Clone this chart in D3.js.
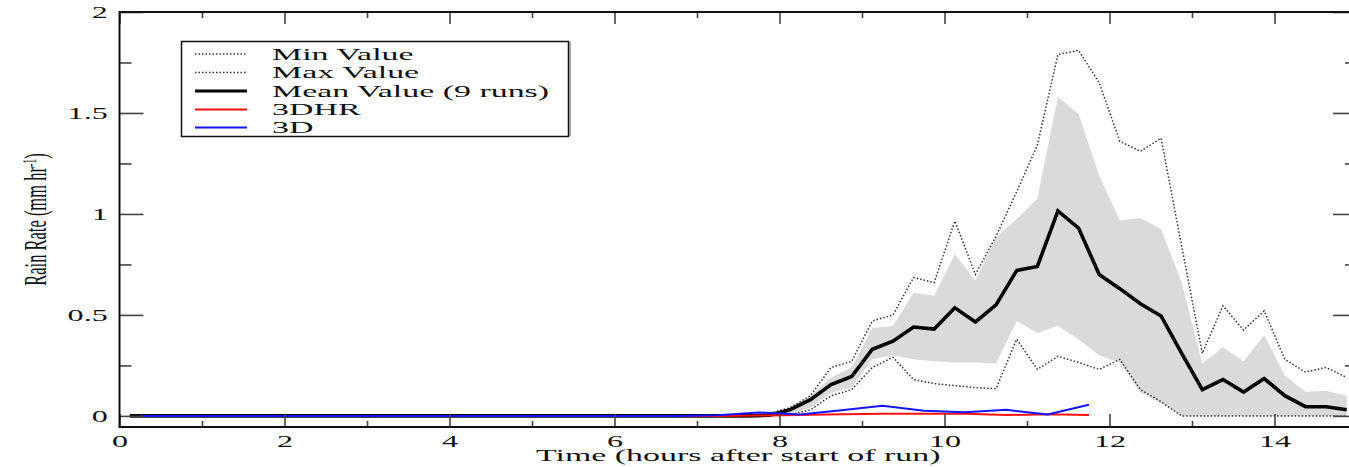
<!DOCTYPE html>
<html>
<head>
<meta charset="utf-8">
<script src="https://cdn.jsdelivr.net/npm/d3@7"></script>
<style>
  html, body { margin: 0; padding: 0; background: #fff; overflow: hidden; }
  svg { display: block; }
  text { font-family: "Liberation Serif", "DejaVu Serif", serif; fill: #111; }
</style>
</head>
<body>
<svg id="chart" width="1349" height="467"></svg>
<script>
// ---- data ----
const hours = [0.125,0.375,0.625,0.875,1.125,1.375,1.625,1.875,2.125,2.375,2.625,2.875,3.125,3.375,3.625,3.875,
  4.125,4.375,4.625,4.875,5.125,5.375,5.625,5.875,6.125,6.375,6.625,6.875,7.125,7.375,7.625,7.875,
  8.125,8.375,8.625,8.875,9.125,9.375,9.625,9.875,10.125,10.375,10.625,10.875,11.125,11.375,11.625,11.875,
  12.125,12.375,12.625,12.875,13.125,13.375,13.625,13.875,14.125,14.375,14.625,14.875];

const meanValues = [0,0,0,0,0,0,0,0, 0,0,0,0,0,0,0,0, 0,0,0,0,0,0,0,0, 0,0,0,0,0,0,0,0.003,
  0.03,0.08,0.155,0.195,0.33,0.37,0.44,0.43,0.535,0.465,0.55,0.72,0.74,1.015,0.93,0.70,
  0.63,0.555,0.495,0.31,0.13,0.18,0.118,0.185,0.10,0.046,0.045,0.03];

const maxValues = [0,0,0,0,0,0,0,0, 0,0,0,0,0,0,0,0, 0,0,0,0,0,0,0,0, 0,0,0,0,0,0,0.003,0.012,
  0.04,0.10,0.24,0.27,0.47,0.50,0.685,0.66,0.965,0.70,0.89,1.11,1.34,1.79,1.81,1.65,
  1.36,1.31,1.375,0.84,0.31,0.545,0.425,0.52,0.28,0.217,0.24,0.19];

const minValues = [0,0,0,0,0,0,0,0, 0,0,0,0,0,0,0,0, 0,0,0,0,0,0,0,0, 0,0,0,0,0,0,0,0,
  0.005,0.03,0.10,0.13,0.24,0.29,0.18,0.16,0.15,0.14,0.135,0.38,0.23,0.295,0.265,0.23,
  0.28,0.13,0.07,0,0,0,0,0,0,0,0,0];

const bandLow = [0,0,0,0,0,0,0,0, 0,0,0,0,0,0,0,0, 0,0,0,0,0,0,0,0, 0,0,0,0,0,0,0,0,
  0.01,0.04,0.115,0.14,0.28,0.30,0.28,0.27,0.265,0.265,0.26,0.47,0.41,0.445,0.38,0.30,
  0.265,0.115,0.065,0,0,0,0,0,0,0,0,0];

const bandHigh = [0,0,0,0,0,0,0,0, 0,0,0,0,0,0,0,0, 0,0,0,0,0,0,0,0, 0,0,0,0,0,0,0,0.005,
  0.04,0.10,0.19,0.24,0.435,0.445,0.61,0.595,0.80,0.67,0.885,0.975,1.075,1.58,1.495,1.19,
  0.967,0.98,0.925,0.66,0.26,0.34,0.27,0.40,0.20,0.12,0.125,0.10];

const obsHours = [0.25,0.75,1.25,1.75,2.25,2.75,3.25,3.75,4.25,4.75,5.25,5.75,
  6.25,6.75,7.25,7.75,8.25,8.75,9.25,9.75,10.25,10.75,11.25,11.75];
const values3DHR = [0,0,0,0,0,0,0,0,0,0,0,0,0,0, 0,0.002,0.004,0.008,0.01,0.01,0.01,0.004,0.008,0.004];
const values3D   = [0,0,0,0,0,0,0,0,0,0,0,0,0,0, 0.003,0.017,0.007,0.028,0.05,0.025,0.018,0.03,0.007,0.055];

const xMajorTicks = [0,2,4,6,8,10,12,14];
const xMinorTicks = [1,3,5,7,9,11,13,15];
const yMajorTicks = [0,0.5,1,1.5,2];
const yMinorTicks = [0.25,0.75,1.25,1.75];
const yTickLabels = ["0","0.5","1","1.5","2"];

const legendItems = [
  {label: "Min Value", key: "min"},
  {label: "Max Value", key: "max"},
  {label: "Mean Value (9 runs)", key: "mean"},
  {label: "3DHR", key: "hr"},
  {label: "3D", key: "d"}
];

// ---- layout ----
const SX = 2.12; // horizontal stretch of all text in the reference
const frame = {left: 119.5, right: 1357, top: 12, bottom: 427};
const svg = d3.select("#chart");

const x = d3.scaleLinear().domain([0, 15]).range([frame.left, frame.right]);
const y = d3.scaleLinear().domain([-0.055, 2]).range([frame.bottom, frame.top]);

const styles = {
  min:  {stroke: "#333", width: 1.5, dash: "1.5,2"},
  max:  {stroke: "#333", width: 1.5, dash: "1.5,2"},
  mean: {stroke: "#000", width: 3.6, dash: null},
  hr:   {stroke: "#ff1010", width: 2, dash: null},
  d:    {stroke: "#1414ff", width: 2, dash: null}
};

const plot = svg.append("g");
svg.append("clipPath").attr("id", "clip").append("rect")
  .attr("x", frame.left).attr("y", frame.top)
  .attr("width", frame.right - frame.left).attr("height", frame.bottom - frame.top);
plot.attr("clip-path", "url(#clip)");

// band
const band = hours.map((h, i) => ({h, lo: bandLow[i], hi: bandHigh[i]}));
plot.append("path")
  .attr("d", d3.area().x(d => x(d.h)).y0(d => y(d.lo)).y1(d => y(d.hi))(band))
  .attr("fill", "#dadada");

function drawLine(xs, ys, st) {
  const pts = xs.map((h, i) => [h, ys[i]]);
  const p = plot.append("path")
    .attr("d", d3.line().x(d => x(d[0])).y(d => y(d[1]))(pts))
    .attr("fill", "none")
    .attr("stroke", st.stroke)
    .attr("stroke-width", st.width)
    .attr("stroke-linejoin", "miter");
  if (st.dash) p.attr("stroke-dasharray", st.dash);
}
drawLine(hours, minValues, styles.min);
drawLine(hours, maxValues, styles.max);
drawLine(hours, meanValues, styles.mean);
drawLine(obsHours, values3DHR, styles.hr);
drawLine(obsHours, values3D, styles.d);

// ---- axes ----
const tickColor = "#444";
function styleAxis(g) {
  g.select(".domain").remove();
  g.selectAll(".tick line").attr("stroke", tickColor).attr("stroke-width", 1.6);
}

// bottom
const gB = svg.append("g").attr("transform", `translate(0,${frame.bottom})`)
  .call(d3.axisBottom(x).tickValues(xMajorTicks).tickSizeInner(-13).tickSizeOuter(0).tickPadding(0).tickFormat(d3.format("d")));
styleAxis(gB);
gB.selectAll(".tick text")
  .attr("y", 20).attr("dy", 0)
  .attr("font-size", 16.5)
  .attr("transform", `scale(1.95,1)`)
  .attr("fill", "#111");
const gBm = svg.append("g").attr("transform", `translate(0,${frame.bottom})`)
  .call(d3.axisBottom(x).tickValues(xMinorTicks).tickSizeInner(-6).tickSizeOuter(0).tickFormat(""));
styleAxis(gBm);

// top
const gT = svg.append("g").attr("transform", `translate(0,${frame.top})`)
  .call(d3.axisTop(x).tickValues(xMajorTicks).tickSizeInner(-12).tickSizeOuter(0).tickFormat(""));
styleAxis(gT);
const gTm = svg.append("g").attr("transform", `translate(0,${frame.top})`)
  .call(d3.axisTop(x).tickValues(xMinorTicks).tickSizeInner(-6).tickSizeOuter(0).tickFormat(""));
styleAxis(gTm);

// left
const gL = svg.append("g").attr("transform", `translate(${frame.left},0)`)
  .call(d3.axisLeft(y).tickValues(yMajorTicks).tickSizeInner(-24).tickSizeOuter(0).tickPadding(6)
    .tickFormat((d, i) => yTickLabels[i]));
styleAxis(gL);
gL.selectAll(".tick text")
  .attr("font-size", 16.5)
  .attr("dy", "0.34em")
  .attr("transform", `scale(1.95,1)`)
  .attr("fill", "#111");
const gLm = svg.append("g").attr("transform", `translate(${frame.left},0)`)
  .call(d3.axisLeft(y).tickValues(yMinorTicks).tickSizeInner(-12).tickSizeOuter(0).tickFormat(""));
styleAxis(gLm);

// right
const gR = svg.append("g").attr("transform", `translate(${frame.right},0)`)
  .call(d3.axisRight(y).tickValues(yMajorTicks).tickSizeInner(-24).tickSizeOuter(0).tickFormat(""));
styleAxis(gR);
const gRm = svg.append("g").attr("transform", `translate(${frame.right},0)`)
  .call(d3.axisRight(y).tickValues(yMinorTicks).tickSizeInner(-12).tickSizeOuter(0).tickFormat(""));
styleAxis(gRm);

// frame
svg.append("rect")
  .attr("x", frame.left).attr("y", frame.top)
  .attr("width", frame.right - frame.left).attr("height", frame.bottom - frame.top)
  .attr("fill", "none").attr("stroke", "#111").attr("stroke-width", 2);

// axis titles
svg.append("text")
  .attr("transform", `translate(${(frame.left + frame.right) / 2},461) scale(${SX},1)`)
  .attr("text-anchor", "middle")
  .attr("font-size", 16)
  .text("Time (hours after start of run)");

const yl = svg.append("text")
  .attr("transform", `translate(46,${(frame.top + frame.bottom) / 2}) scale(1.85,1) rotate(-90)`)
  .attr("text-anchor", "middle")
  .attr("font-size", 16.5);
yl.append("tspan").text("Rain Rate (mm hr");
yl.append("tspan").attr("font-size", 10).attr("baseline-shift", "super").text("-1");
yl.append("tspan").text(")");

// ---- legend ----
const lg = svg.append("g");
lg.append("rect")
  .attr("x", 181.5).attr("y", 41.5).attr("width", 387).attr("height", 95)
  .attr("fill", "#fff").attr("stroke", "#111").attr("stroke-width", 1.5);
lg.append("line").attr("x1", 570).attr("x2", 570).attr("y1", 42).attr("y2", 136)
  .attr("stroke", "#888").attr("stroke-width", 1.5);
const rowLine = [54, 72.5, 91, 109.5, 127.5];
const rowText = [59.5, 78, 96.5, 115, 133];
legendItems.forEach((it, i) => {
  const st = styles[it.key];
  const l = lg.append("line")
    .attr("x1", 195).attr("x2", 247).attr("y1", rowLine[i]).attr("y2", rowLine[i])
    .attr("stroke", st.stroke).attr("stroke-width", it.key === "mean" ? 3 : (st.dash ? 1.3 : 2));
  if (st.dash) l.attr("stroke-dasharray", st.dash);
  lg.append("text")
    .attr("transform", `translate(272,${rowText[i]}) scale(${SX},1)`)
    .attr("font-size", 16)
    .text(it.label);
});
</script>
</body>
</html>
